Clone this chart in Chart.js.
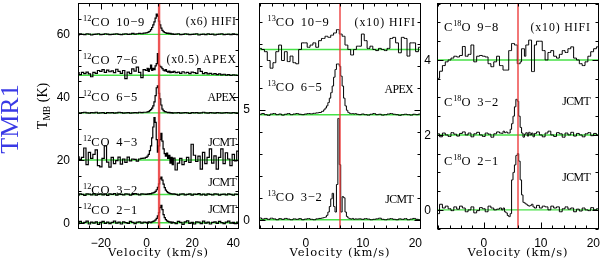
<!DOCTYPE html>
<html>
<head>
<meta charset="utf-8">
<title>TMR1 spectra</title>
<script src="https://cdn.jsdelivr.net/npm/chart.js"></script>
<style>
  body { margin: 0; background: #fff; }
  #fig { position: relative; width: 600px; height: 263px; overflow: hidden; }
  #fig canvas { position: absolute; left: 0; top: 0; }
  .lbl { position: absolute; white-space: nowrap; font-family: "Liberation Serif", serif; font-size: 11.5px; line-height: 1; color: #000; }
  .lbl sup { font-size: 0.66em; line-height: 0; vertical-align: 0.55em; letter-spacing: 0; }
  .lbl sub { font-size: 0.68em; line-height: 0; vertical-align: -0.3em; }
  .iso { word-spacing: 2px; }
  .vel { font-family: "DejaVu Serif", serif; letter-spacing: 1px; }
  .rot { transform: translate(-50%, -50%) rotate(-90deg); }
</style>
</head>
<body>
<div id="fig">
  <canvas id="c1" width="600" height="263"></canvas>
  <canvas id="c2" width="600" height="263"></canvas>
  <canvas id="c3" width="600" height="263"></canvas>
</div>
<script>
// ---- panel 1 : 12CO ladder (velocity km/s, T_MB K before offset) ----
var p1Vel = [-31,-30,-29,-28,-27,-26,-25,-24,-23,-22,-21,-20,-19,-18,-17,-16,-15,-14,-13,-12,-11,-10,-9,-8,-7,-6,-5,-4,-3,-2,-1,
  0,0.5,1,1.5,2,2.5,3,3.5,4,4.5,5,5.5,6,6.5,7,7.5,8,8.5,9,9.5,10,10.5,11,11.5,12,
  13,14,15,16,17,18,19,20,21,22,23,24,25,26,27,28,29,30,31,32,33,34,35,36,37,38,39,40,41];
var co21 = [0.2,-0.3,0.4,-0.2,0.1,0.5,-0.4,0.2,-0.1,0.3,-0.5,0.1,0.4,-0.2,0.2,-0.3,0.1,0.5,-0.1,0.2,-0.4,0.3,0.0,-0.2,0.4,0.1,-0.3,0.2,0.3,-0.1,0.2,
  0.1,-0.2,0.3,0.2,0.0,0.3,0.4,0.6,0.9,1.4,2.2,3.2,4.8,5.5,4.2,2.6,1.6,1.0,0.6,0.4,0.2,0.3,-0.1,0.2,0.0,
  -0.3,0.4,0.1,-0.5,0.3,0.6,-0.2,0.1,-0.4,0.3,0.2,-0.3,0.5,-0.1,0.2,-0.4,0.1,0.3,-0.2,0.4,0.0,-0.3,0.2,0.5,-0.1,0.1,-0.3,0.2,0.0];
var co32 = [0.1,-0.2,0.2,0.0,-0.3,0.2,0.1,-0.1,0.3,-0.2,0.0,0.2,-0.1,0.1,-0.3,0.2,0.0,0.3,-0.2,0.1,0.0,-0.1,0.2,0.1,-0.2,0.0,0.3,0.1,-0.1,0.2,0.1,
  0.0,0.2,0.1,0.3,0.2,0.4,0.5,0.7,1.0,1.5,2.3,3.4,5.0,5.5,4.6,3.3,2.2,1.4,0.9,0.6,0.4,0.3,0.2,0.1,0.2,
  0.0,-0.2,0.1,0.2,-0.1,0.0,0.2,-0.2,0.1,0.0,0.3,-0.1,0.1,-0.2,0.2,0.0,-0.1,0.2,0.1,-0.2,0.0,0.1,-0.1,0.2,0.0,-0.2,0.1,0.0,0.1];
var co43 = [0.5,1.0,0.2,0.8,3.8,-1.5,2.4,0.5,1.8,3.2,-1.8,-2.2,0.5,4.5,-0.7,-2.3,0.8,-1.2,-0.2,0.9,-1.3,0.3,-0.8,0.9,-0.3,0.3,0.2,-0.4,0.3,0.5,0.6,
  0.8,1.2,1.8,3.0,4.5,7.0,10.5,13.5,12.0,6.5,2.5,4.5,6.5,8.5,6.0,3.5,2.0,1.2,2.2,0.5,1.5,-1.0,0.8,-1.5,0.6,
  -3.2,-1.0,0.5,-1.5,-0.5,0.8,-0.8,5.0,1.5,-0.5,1.2,-2.9,2.4,-1.2,0.8,3.5,-1.0,1.3,-2.9,0.8,3.5,-1.2,2.3,0.3,-1.8,1.8,-0.3,2.8,0.5];
var co65 = [0.1,0.0,-0.1,0.1,0.2,0.0,-0.1,0.1,0.0,0.2,-0.1,0.0,0.1,-0.2,0.1,0.0,0.1,-0.1,0.0,0.2,0.1,-0.1,0.0,0.1,-0.1,0.0,0.1,0.0,0.2,0.1,0.2,
  0.2,0.3,0.4,0.7,1.0,1.5,2.2,3.5,5.5,8.0,8.6,6.2,4.5,2.5,1.2,0.7,0.4,0.3,0.2,0.1,0.2,0.0,0.1,-0.1,0.0,
  0.0,0.1,-0.1,0.0,0.1,0.0,-0.2,0.1,0.0,0.1,-0.1,0.0,0.2,0.0,-0.1,0.1,0.0,-0.1,0.1,0.0,-0.1,0.0,0.1,0.0,-0.1,0.1,0.0,-0.1,0.0];
var co76 = [0.3,0.8,0.2,0.9,0.5,1.0,0.4,-0.5,0.9,0.6,1.5,1.2,1.8,0.9,1.6,1.1,1.4,0.8,1.9,1.2,0.6,1.5,-1.1,1.0,0.5,2.0,1.3,2.6,0.9,-0.8,1.8,
  1.5,2.2,1.2,2.0,3.2,1.5,2.2,1.8,3.0,3.7,6.9,3.2,2.8,2.6,2.1,1.6,1.4,1.8,1.2,1.0,1.3,0.8,1.1,0.9,1.2,
  0.8,1.0,0.6,1.1,0.7,0.9,0.5,1.0,0.8,0.6,2.1,1.2,0.5,0.8,0.4,0.6,0.3,0.5,0.2,0.4,0.1,0.3,0.0,0.2,-0.1,0.1,0.0,-0.1,0.1];
var co109 = [0.1,-0.2,0.2,0.0,-0.1,0.2,0.1,-0.2,0.0,0.1,0.2,-0.1,0.0,0.2,0.1,-0.1,0.0,0.1,0.2,0.0,-0.1,0.1,0.2,0.0,0.1,0.3,0.1,0.2,0.3,0.2,0.4,
  0.5,0.6,0.8,1.0,1.5,2.2,3.0,4.0,5.2,6.5,5.8,4.2,3.0,2.0,1.3,0.9,0.6,0.5,0.3,0.4,0.2,0.3,0.1,0.2,0.0,
  0.1,0.2,-0.1,0.0,0.2,0.1,-0.1,0.0,0.1,0.2,-0.2,0.0,0.1,-0.1,0.2,0.0,0.1,-0.2,0.0,0.1,0.2,-0.1,0.0,0.1,-0.1,0.2,0.0,-0.1,0.1];
var p1Offsets = [0, 9, 20, 35, 47, 60];
var p1XTicks = [-20, 0, 20, 40];
var p1YTicks = [0, 20, 40, 60];

// ---- panels 2 and 3 share one velocity grid ----
var p2Vel = [-8.5,-8,-7.5,-7,-6.5,-6,-5.5,-5,-4.5,-4,-3.5,-3,-2.5,-2,-1.5,-1,-0.5,0,0.5,1,1.5,2,2.5,3,
  3.25,3.5,3.75,4,4.25,4.5,4.75,5,5.25,5.5,5.75,6,6.25,6.5,6.75,7,7.25,7.5,7.75,8,8.25,8.5,8.75,9,
  9.5,10,10.5,11,11.5,12,12.5,13,13.5,14,14.5,15,15.5,16,16.5,17,17.5,18,18.5,19,19.5,20,20.5];
var co13_32 = [0.05,0.08,0.03,0.06,0.02,0.07,0.04,0.0,0.05,0.02,0.06,0.03,0.0,0.04,0.02,0.05,0.0,0.03,0.05,0.02,0.0,0.04,0.06,0.08,
  0.1,0.12,0.2,0.35,0.6,0.95,1.2,0.6,0.35,1.6,4.6,2.5,0.35,1.05,1.0,0.35,0.15,0.08,0.05,0.03,0.06,0.02,0.04,0.03,
  0.04,0.02,0.05,0.03,0.0,0.02,0.04,0.07,0.02,0.0,0.03,0.05,0.02,0.0,0.04,0.02,0.05,0.0,0.03,0.06,0.02,0.0,0.03];
var co13_65 = [0.0,0.02,0.05,0.0,-0.03,0.03,0.05,0.0,0.03,-0.02,0.02,0.05,0.0,0.03,0.05,0.02,0.0,0.03,0.05,0.04,0.06,0.08,0.1,0.15,
  0.22,0.3,0.4,0.55,0.75,1.0,1.3,1.7,2.05,2.3,2.3,2.2,1.75,1.3,0.75,0.4,0.2,0.1,0.06,0.04,0.05,0.03,0.05,0.02,
  0.0,0.03,0.0,-0.02,0.02,0.05,0.0,0.02,-0.02,0.0,0.03,0.05,0.02,0.0,-0.03,0.0,0.02,0.0,-0.02,0.02,0.0,0.03,0.0];
var co13_109 = [0.0,0.05,0.0,-0.1,-0.5,-0.85,-0.6,-0.1,0.2,-0.5,-0.1,-0.55,-0.3,-0.6,-0.65,0.0,0.3,0.3,0.1,0.2,0.3,0.1,0.4,0.5,
  0.5,0.6,0.6,0.55,0.55,0.65,0.65,0.75,0.75,0.9,0.9,0.7,0.7,0.6,0.6,0.2,0.2,0.0,0.0,-0.25,-0.25,0.0,0.0,0.15,
  0.15,0.7,0.4,0.05,0.15,0.0,-0.05,0.05,0.0,-0.05,0.05,0.5,0.55,0.3,-0.15,0.55,0.5,-0.3,0.3,0.3,-0.1,0.1,0.0];
var p2Offsets = [0, 4.77, 7.73];
var p2XTicks = [0, 10, 20];
var p2YTicks = [0, 5];

var c18o_21 = [0.05,-0.1,0.15,0.05,0.1,0.03,-0.02,0.08,0.02,0.1,0.05,-0.05,0.0,0.08,-0.08,-0.02,0.06,0.03,-0.05,0.1,0.05,0.0,0.02,0.05,
  0.0,0.05,-0.05,-0.08,-0.15,-0.18,-0.1,0.8,1.0,1.2,1.45,1.5,1.3,0.8,0.4,0.2,0.18,0.15,0.12,0.1,0.12,0.15,0.08,0.05,
  0.12,0.05,0.1,0.08,0.0,0.1,0.05,0.08,-0.05,0.03,0.08,0.02,0.05,-0.05,0.02,-0.03,0.05,0.0,-0.02,0.06,0.0,0.03,0.02];
var c18o_32 = [0.0,0.03,-0.05,0.05,0.0,-0.04,0.06,0.02,-0.03,0.04,0.08,0.0,0.05,-0.05,0.03,0.07,0.0,-0.04,0.05,0.02,-0.06,0.03,0.08,0.05,
  0.04,0.1,0.06,0.08,0.05,0.05,0.15,0.3,0.5,0.75,0.95,0.9,0.5,0.2,0.05,-0.06,0.02,0.06,-0.03,0.07,0.0,0.05,-0.05,0.04,
  0.08,0.0,-0.05,0.05,0.1,0.0,-0.04,0.06,0.03,-0.06,0.05,0.0,0.07,-0.03,0.04,0.0,-0.05,0.03,0.06,-0.02,0.04,0.0,0.02];
var c18o_98 = [-0.49,-0.49,-0.3,-0.15,-0.05,0.0,0.05,0.1,0.08,0.12,0.36,0.1,0.15,0.4,-0.05,0.1,0.12,0.1,0.08,-0.1,-0.18,-0.05,0.1,-0.15,
  -0.15,-0.27,-0.27,-0.27,-0.27,0.25,0.25,0.44,0.44,0.4,0.4,-0.1,-0.1,-0.05,0.3,0.3,0.1,0.4,0.4,0.53,0.53,-0.31,-0.31,0.4,
  0.5,0.5,0.25,0.0,0.2,0.25,0.1,0.05,0.15,0.25,0.2,0.3,0.35,0.05,0.0,-0.1,-0.15,-0.05,0.1,0.22,0.3,0.35,0.3];
var p3Offsets = [0, 2, 4];
var p3XTicks = [0, 10, 20];
var p3YTicks = [0, 2, 4];

var vlsr1 = 5.5;   // red line as drawn in the 12CO panel
var vlsr = 6.0;

function specPoints(vel, t, off) {
  return vel.map(function (v, i) { return { x: v, y: t[i] + off }; });
}

function boxPlugin(cfg) {
  return {
    id: 'pgbox',
    afterDatasetsDraw: function (chart) {
      var ctx = chart.ctx, a = chart.chartArea, sx = chart.scales.x, sy = chart.scales.y;
      var L = Math.round(a.left) + 0.5, R = Math.round(a.right) - 0.5;
      var T = Math.round(a.top) + 0.5, B = Math.round(a.bottom) - 0.5;
      ctx.save();
      ctx.strokeStyle = '#000';
      ctx.lineWidth = 1;
      ctx.strokeRect(L, T, R - L, B - T);
      ctx.beginPath();
      var k, v, p, len;
      for (k = Math.ceil(sx.min / cfg.xMinor); k * cfg.xMinor <= sx.max; k++) {
        v = k * cfg.xMinor;
        len = cfg.xTicks.indexOf(Math.round(v * 100) / 100) >= 0 ? 6 : 3;
        p = Math.round(sx.getPixelForValue(v)) + 0.5;
        ctx.moveTo(p, B); ctx.lineTo(p, B - len);
        ctx.moveTo(p, T); ctx.lineTo(p, T + len);
      }
      for (k = Math.ceil(sy.min / cfg.yMinor); k * cfg.yMinor <= sy.max; k++) {
        v = k * cfg.yMinor;
        len = cfg.yTicks.indexOf(Math.round(v * 100) / 100) >= 0 ? 6 : 3;
        p = Math.round(sy.getPixelForValue(v)) + 0.5;
        ctx.moveTo(L, p); ctx.lineTo(L + len, p);
        ctx.moveTo(R, p); ctx.lineTo(R - len, p);
      }
      ctx.stroke();

      ctx.fillStyle = '#000';
      ctx.font = "12px 'Liberation Sans', sans-serif";
      ctx.textBaseline = 'alphabetic';
      ctx.textAlign = 'left';
      cfg.xTicks.forEach(function (t) {
        var s = t < 0 ? '\u2212' + Math.abs(t) : String(t);
        var w = ctx.measureText(s).width;
        var x = sx.getPixelForValue(t) - w / 2;
        if (x + w > a.right + 1) x = a.right + 1 - w;
        ctx.fillText(s, x, 246.5);
      });
      ctx.textAlign = 'right';
      ctx.textBaseline = 'middle';
      cfg.yTicks.forEach(function (t) {
        ctx.fillText(String(t), a.left - cfg.yGap, sy.getPixelForValue(t) + 0.5);
      });
      ctx.restore();
    }
  };
}

function makePanel(id, pad, xr, yr, vel, spectra, offsets, vl, redW, lineW, cfg) {
  var datasets = [];
  datasets.push({
    data: [{ x: vl, y: yr[0] - 1 }, { x: vl, y: yr[1] + 1 }],
    borderColor: 'rgba(235,55,55,0.85)', borderWidth: redW, pointRadius: 0, order: 0
  });
  spectra.forEach(function (s, i) {
    datasets.push({
      data: specPoints(vel, s, offsets[i]), stepped: 'middle',
      borderColor: '#000', borderWidth: lineW, pointRadius: 0, order: 1
    });
  });
  offsets.forEach(function (o) {
    datasets.push({
      data: [{ x: xr[0] - 5, y: o }, { x: xr[1] + 5, y: o }],
      borderColor: 'rgb(70,225,70)', borderWidth: 1.4, pointRadius: 0, order: 2
    });
  });
  return new Chart(document.getElementById(id), {
    type: 'line',
    data: { datasets: datasets },
    options: {
      responsive: false, animation: false, events: [],
      layout: { padding: pad },
      plugins: { legend: { display: false }, tooltip: { enabled: false } },
      scales: {
        x: { type: 'linear', min: xr[0], max: xr[1], display: false },
        y: { type: 'linear', min: yr[0], max: yr[1], display: false }
      }
    },
    plugins: [boxPlugin(cfg)]
  });
}

makePanel('c1', { left: 78, right: 361, top: 3, bottom: 34 }, [-30, 40.5], [-2, 70],
  p1Vel, [co21, co32, co43, co65, co76, co109], p1Offsets, vlsr1, 2.4, 1.2,
  { xTicks: p1XTicks, xMinor: 5, yTicks: p1YTicks, yMinor: 5, yGap: 8 });
makePanel('c2', { left: 259, right: 179, top: 3, bottom: 34 }, [-8.2, 20.2], [-0.42, 9.84],
  p2Vel, [co13_32, co13_65, co13_109], p2Offsets, vlsr, 1.6, 1,
  { xTicks: p2XTicks, xMinor: 2, yTicks: p2YTicks, yMinor: 1, yGap: 9 });
makePanel('c3', { left: 437, right: 1, top: 3, bottom: 34 }, [-8.2, 20.2], [-0.51, 5.52],
  p2Vel, [c18o_21, c18o_32, c18o_98], p3Offsets, vlsr, 1.6, 1,
  { xTicks: p3XTicks, xMinor: 2, yTicks: p3YTicks, yMinor: 0.5, yGap: 6 });

// ---- text ----
var fig = document.getElementById('fig');
function addText(html, x, base, align, cls, size, spacing) {
  var d = document.createElement('div');
  d.className = 'lbl' + (cls ? ' ' + cls : '');
  var fs = size || 11.5;
  d.style.fontSize = fs + 'px';
  if (spacing !== undefined) d.style.letterSpacing = spacing + 'px';
  d.innerHTML = html;
  d.style.top = (base - 0.84 * fs) + 'px';
  if (align === 'right') d.style.right = (600 - x - (spacing > 0 ? spacing : 0)) + 'px';
  else if (align === 'center') { d.style.left = x + 'px'; d.style.transform = 'translateX(-50%)'; }
  else d.style.left = x + 'px';
  fig.appendChild(d);
  return d;
}
function addRotated(html, cx, cy, size, color) {
  var d = document.createElement('div');
  d.className = 'lbl rot';
  d.innerHTML = html;
  d.style.left = cx + 'px';
  d.style.top = cy + 'px';
  d.style.fontSize = size + 'px';
  if (color) d.style.color = color;
  fig.appendChild(d);
}

var isoLabels = [
  ['<sup>12</sup>CO 10\u22129', 83, 26], ['<sup>12</sup>CO 7\u22126', 83, 64],
  ['<sup>12</sup>CO 6\u22125', 83, 101.5], ['<sup>12</sup>CO 4\u22123', 83, 146.5],
  ['<sup>12</sup>CO 3\u22122', 83, 194], ['<sup>12</sup>CO 2\u22121', 83, 214.5],
  ['<sup>13</sup>CO 10\u22129', 267.5, 26.5], ['<sup>13</sup>CO 6\u22125', 267.5, 91.5],
  ['<sup>13</sup>CO 3\u22122', 267.5, 201.5],
  ['C<sup>18</sup>O 9\u22128', 444, 31.5], ['C<sup>18</sup>O 3\u22122', 444, 106.5],
  ['C<sup>18</sup>O 2\u22121', 444, 165]
];
var telLabels = [
  ['(x6) HIFI', 236, 26, 0.6], ['(x0.5) APEX', 236, 64, 0.8], ['APEX', 236, 101.5, -0.6],
  ['JCMT', 236, 146.5, -0.6], ['JCMT', 236, 187, -0.6], ['JCMT', 236, 214, -0.6],
  ['(x10) HIFI', 415, 26.5, 1.0], ['APEX', 413, 94, -0.6], ['JCMT', 413, 204, -0.6],
  ['(x10) HIFI', 590, 31.5, 0.9], ['JCMT', 590, 106, -0.6], ['JCMT', 590, 182, -0.6]
];
isoLabels.forEach(function (l) { addText(l[0], l[1], l[2], 'left', 'iso', 12.5, 0.8); });
telLabels.forEach(function (l) { addText(l[0], l[1], l[2], 'right', '', 11.8, l[3]); });

addText('Velocity (km/s)', 158.5, 257, 'center', 'vel', 11.5);
addText('Velocity (km/s)', 340, 257, 'center', 'vel', 11.5);
addText('Velocity (km/s)', 518, 257, 'center', 'vel', 11.5);

addRotated('T<sub>MB</sub> (K)', 43, 106, 14);
addRotated('TMR1', 10, 119, 26, '#3a3ae6');
</script>
</body>
</html>
